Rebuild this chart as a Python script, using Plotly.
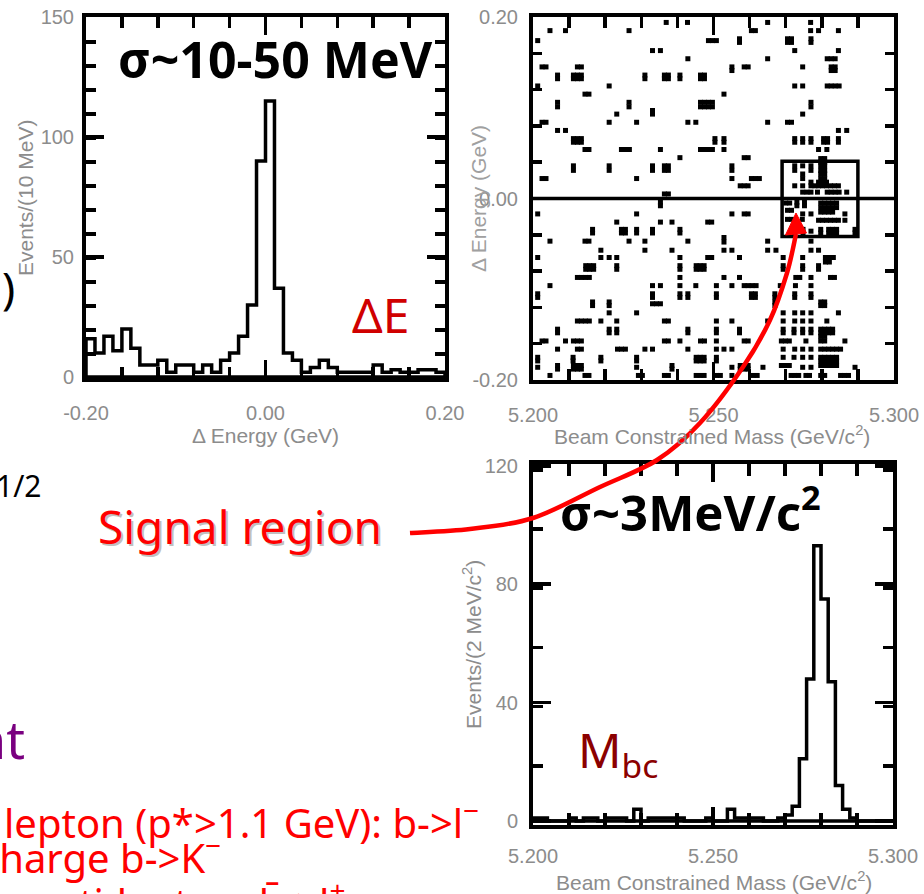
import numpy as np
import plotly.graph_objects as go

W, H = 924, 894

# ---------------- data ----------------
de_range = [-0.20, 0.20]
de_counts = [16, 10, 17, 11, 20, 12, 5, 5, 7, 2, 5, 5, 2, 5, 2, 7, 10, 17, 30, 90,
             115, 37, 10, 7, 2, 4, 7, 4, 2, 2, 2, 2, 5, 2, 3, 2, 2, 3, 3, 2]
de_ticks = [-0.20, 0.00, 0.20]
de_ticktext = ["-0.20", "0.00", "0.20"]
ev10_ticks = [0, 50, 100, 150]

mbc_range = [5.200, 5.300]
mbc_counts = [1, 1, 0, 0, 0, 1, 0, 1, 1, 0, 1, 1, 1, 0, 4, 0, 1, 1, 1, 1,
              1, 0, 0, 0, 1, 0, 0, 4, 1, 1, 1, 1, 0, 0, 1, 2, 5, 21, 48, 93,
              75, 47, 12, 4, 1, 0, 0, 0, 0, 0]
mbc_ticks = [5.200, 5.250, 5.300]
mbc_ticktext = ["5.200", "5.250", "5.300"]
ev2_ticks = [0, 40, 80, 120]

signal_box_mbc = [5.269, 5.290]
signal_box_de = [-0.042, 0.041]

# events (Mbc [GeV/c^2], dE [GeV]), by quadrant
events_upper_left = [
    (5.2369, 0.194), (5.2428, 0.194), (5.2047, 0.185), (5.2090, 0.185), (5.2266, 0.185),
    (5.2013, 0.174), (5.2486, 0.174), (5.2497, 0.174), (5.2508, 0.174),
    (5.2331, 0.163), (5.2353, 0.163), (5.2429, 0.154),
    (5.2025, 0.145), (5.2036, 0.145), (5.2123, 0.145), (5.2134, 0.145),
    (5.2068, 0.136), (5.2068, 0.132),
    (5.2112, 0.136), (5.2123, 0.136), (5.2134, 0.136), (5.2112, 0.132), (5.2123, 0.132), (5.2134, 0.132),
    (5.2310, 0.136), (5.2310, 0.132),
    (5.2364, 0.136), (5.2375, 0.136), (5.2364, 0.132), (5.2375, 0.132),
    (5.2407, 0.136), (5.2407, 0.132),
    (5.2464, 0.136), (5.2475, 0.136), (5.2464, 0.132), (5.2475, 0.132),
    (5.2013, 0.124), (5.2211, 0.124), (5.2144, 0.115), (5.2155, 0.115),
    (5.2068, 0.106), (5.2068, 0.101), (5.2266, 0.106), (5.2266, 0.101),
    (5.2464, 0.106), (5.2475, 0.106), (5.2486, 0.106), (5.2497, 0.106),
    (5.2464, 0.101), (5.2475, 0.101), (5.2486, 0.101), (5.2497, 0.101),
    (5.2232, 0.093), (5.2331, 0.097), (5.2331, 0.093),
    (5.2025, 0.084), (5.2036, 0.084), (5.2211, 0.084), (5.2287, 0.084), (5.2429, 0.084), (5.2451, 0.084),
    (5.2068, 0.075), (5.2090, 0.075),
    (5.2112, 0.066), (5.2123, 0.066), (5.2134, 0.066), (5.2112, 0.062), (5.2123, 0.062), (5.2134, 0.062),
    (5.2144, 0.054), (5.2155, 0.054), (5.2245, 0.054), (5.2256, 0.054), (5.2267, 0.054), (5.2353, 0.054),
    (5.2464, 0.054), (5.2475, 0.054), (5.2486, 0.054), (5.2497, 0.054),
    (5.2407, 0.045),
    (5.2112, 0.036), (5.2112, 0.031), (5.2211, 0.036), (5.2211, 0.031), (5.2331, 0.036), (5.2331, 0.031),
    (5.2364, 0.036), (5.2375, 0.036), (5.2364, 0.031), (5.2375, 0.031),
    (5.2025, 0.022), (5.2036, 0.022), (5.2287, 0.022), (5.2364, 0.005), (5.2375, 0.005),
]
events_upper_right = [
    (5.2650, 0.194), (5.2769, 0.194),
    (5.2605, 0.185), (5.2616, 0.185), (5.2769, 0.185), (5.2791, 0.185), (5.2846, 0.185),
    (5.2572, 0.176), (5.2572, 0.172),
    (5.2705, 0.176), (5.2716, 0.176), (5.2705, 0.172), (5.2716, 0.172),
    (5.2770, 0.176), (5.2770, 0.172), (5.2725, 0.163), (5.2846, 0.163),
    (5.2650, 0.154), (5.2815, 0.154), (5.2826, 0.154), (5.2837, 0.154),
    (5.2551, 0.145), (5.2551, 0.141), (5.2585, 0.145), (5.2596, 0.145), (5.2747, 0.145),
    (5.2826, 0.145), (5.2837, 0.145), (5.2826, 0.141), (5.2837, 0.141),
    (5.2725, 0.124), (5.2747, 0.124), (5.2815, 0.124), (5.2826, 0.124), (5.2837, 0.124), (5.2848, 0.124),
    (5.2529, 0.115), (5.2770, 0.106), (5.2770, 0.101), (5.2747, 0.093),
    (5.2650, 0.084), (5.2705, 0.084), (5.2716, 0.084), (5.2846, 0.075), (5.2869, 0.075),
    (5.2504, 0.066), (5.2504, 0.062), (5.2529, 0.066), (5.2529, 0.062),
    (5.2725, 0.066), (5.2725, 0.062), (5.2747, 0.066), (5.2747, 0.062), (5.2770, 0.066), (5.2770, 0.062),
    (5.2805, 0.066), (5.2816, 0.066), (5.2805, 0.062), (5.2816, 0.062), (5.2846, 0.066), (5.2846, 0.062),
    (5.2529, 0.054), (5.2791, 0.054), (5.2814, 0.054), (5.2585, 0.045), (5.2596, 0.045),
    (5.2797, 0.044), (5.2808, 0.044), (5.2797, 0.040), (5.2808, 0.040), (5.2797, 0.036), (5.2808, 0.036),
    (5.2797, 0.031), (5.2808, 0.031), (5.2797, 0.027), (5.2808, 0.027), (5.2797, 0.022), (5.2808, 0.022),
    (5.2551, 0.036), (5.2551, 0.031), (5.2725, 0.036), (5.2725, 0.031), (5.2747, 0.036),
    (5.2770, 0.036), (5.2770, 0.031), (5.2747, 0.027), (5.2747, 0.022), (5.2551, 0.022),
    (5.2605, 0.022), (5.2616, 0.022), (5.2627, 0.022),
    (5.2574, 0.014), (5.2585, 0.014), (5.2596, 0.014), (5.2725, 0.014), (5.2747, 0.014),
    (5.2770, 0.018), (5.2770, 0.014), (5.2781, 0.014),
    (5.2791, 0.018), (5.2802, 0.018), (5.2813, 0.018), (5.2791, 0.014), (5.2802, 0.014), (5.2813, 0.014),
    (5.2824, 0.014), (5.2835, 0.014), (5.2846, 0.014),
    (5.2747, 0.007), (5.2759, 0.007), (5.2770, 0.007), (5.2788, 0.007),
    (5.2815, 0.007), (5.2826, 0.007), (5.2837, 0.007), (5.2848, 0.007), (5.2869, 0.007),
]
events_lower_left = [
    (5.2353, -0.004), (5.2353, -0.008), (5.2013, -0.017), (5.2287, -0.017),
    (5.2232, -0.026), (5.2353, -0.026), (5.2385, -0.026), (5.2484, -0.026), (5.2495, -0.026),
    (5.2165, -0.034), (5.2165, -0.038),
    (5.2245, -0.034), (5.2256, -0.034), (5.2245, -0.038), (5.2256, -0.038),
    (5.2287, -0.034), (5.2287, -0.038), (5.2331, -0.034), (5.2331, -0.038), (5.2407, -0.034), (5.2407, -0.038),
    (5.2047, -0.047), (5.2144, -0.047), (5.2155, -0.047), (5.2266, -0.047), (5.2310, -0.047), (5.2429, -0.047),
    (5.2188, -0.057), (5.2310, -0.057), (5.2385, -0.057),
    (5.2013, -0.065), (5.2188, -0.065), (5.2211, -0.065), (5.2232, -0.065), (5.2407, -0.065),
    (5.2484, -0.065), (5.2495, -0.065),
    (5.2146, -0.074), (5.2157, -0.074), (5.2168, -0.074), (5.2146, -0.078), (5.2157, -0.078), (5.2168, -0.078),
    (5.2232, -0.074), (5.2232, -0.078), (5.2407, -0.074), (5.2407, -0.078),
    (5.2452, -0.074), (5.2463, -0.074), (5.2474, -0.074), (5.2452, -0.078), (5.2463, -0.078), (5.2474, -0.078),
    (5.2123, -0.087), (5.2134, -0.087), (5.2145, -0.087), (5.2156, -0.087), (5.2407, -0.087),
    (5.2047, -0.096), (5.2331, -0.096), (5.2353, -0.096), (5.2407, -0.096), (5.2451, -0.096),
    (5.2013, -0.105), (5.2013, -0.109),
    (5.2331, -0.105), (5.2331, -0.109), (5.2331, -0.116), (5.2342, -0.116), (5.2353, -0.116),
    (5.2407, -0.105), (5.2407, -0.109), (5.2429, -0.105), (5.2429, -0.109),
    (5.2165, -0.114), (5.2165, -0.118), (5.2211, -0.114), (5.2211, -0.118),
    (5.2211, -0.126), (5.2287, -0.126),
    (5.2123, -0.135), (5.2134, -0.135), (5.2145, -0.135), (5.2156, -0.135), (5.2188, -0.135),
    (5.2232, -0.135), (5.2364, -0.135), (5.2375, -0.135),
    (5.2068, -0.144), (5.2068, -0.148), (5.2211, -0.144), (5.2211, -0.148),
    (5.2232, -0.144), (5.2232, -0.148), (5.2429, -0.144), (5.2429, -0.148),
    (5.2025, -0.157), (5.2036, -0.157), (5.2090, -0.157), (5.2112, -0.157), (5.2123, -0.157),
    (5.2134, -0.157), (5.2364, -0.157), (5.2375, -0.157), (5.2407, -0.157), (5.2464, -0.157), (5.2475, -0.157),
    (5.2068, -0.166), (5.2123, -0.166), (5.2134, -0.166), (5.2234, -0.166), (5.2245, -0.166),
    (5.2256, -0.166), (5.2310, -0.166), (5.2331, -0.166), (5.2429, -0.166),
    (5.2013, -0.175), (5.2013, -0.179), (5.2111, -0.175), (5.2111, -0.179),
    (5.2188, -0.175), (5.2188, -0.179), (5.2287, -0.175), (5.2287, -0.179),
    (5.2452, -0.175), (5.2463, -0.175), (5.2474, -0.175), (5.2452, -0.179), (5.2463, -0.179), (5.2474, -0.179),
    (5.2013, -0.186), (5.2068, -0.184), (5.2068, -0.188),
    (5.2112, -0.184), (5.2123, -0.184), (5.2134, -0.184), (5.2112, -0.188), (5.2123, -0.188), (5.2134, -0.188),
    (5.2287, -0.186), (5.2385, -0.184), (5.2385, -0.188),
    (5.2047, -0.195), (5.2144, -0.195), (5.2155, -0.195), (5.2292, -0.195), (5.2303, -0.195),
    (5.2364, -0.195), (5.2375, -0.195), (5.2452, -0.195), (5.2463, -0.195), (5.2474, -0.195),
]
events_lower_right = [
    (5.2700, -0.005), (5.2711, -0.005),
    (5.2731, -0.004), (5.2731, -0.008), (5.2752, -0.004), (5.2752, -0.008),
    (5.2705, -0.013), (5.2716, -0.013), (5.2747, -0.017), (5.2770, -0.017),
    (5.2797, -0.005), (5.2808, -0.005), (5.2819, -0.005), (5.2830, -0.005), (5.2841, -0.005),
    (5.2797, -0.010), (5.2808, -0.010), (5.2819, -0.010), (5.2830, -0.010), (5.2841, -0.010),
    (5.2797, -0.015), (5.2808, -0.015), (5.2819, -0.015), (5.2830, -0.015),
    (5.2864, -0.017), (5.2705, -0.023), (5.2716, -0.023), (5.2746, -0.023),
    (5.2791, -0.024), (5.2802, -0.024), (5.2813, -0.024), (5.2824, -0.024), (5.2835, -0.024),
    (5.2846, -0.024), (5.2864, -0.024),
    (5.2725, -0.034), (5.2725, -0.038), (5.2748, -0.034), (5.2748, -0.038), (5.2770, -0.036),
    (5.2797, -0.034), (5.2797, -0.038),
    (5.2819, -0.034), (5.2830, -0.034), (5.2841, -0.034), (5.2819, -0.038), (5.2830, -0.038), (5.2841, -0.038),
    (5.2892, -0.034), (5.2892, -0.038),
    (5.2551, -0.017), (5.2585, -0.017), (5.2596, -0.017),
    (5.2529, -0.043), (5.2529, -0.048), (5.2650, -0.047), (5.2770, -0.047),
    (5.2529, -0.057), (5.2551, -0.057), (5.2650, -0.057), (5.2673, -0.057), (5.2770, -0.057), (5.2791, -0.057),
    (5.2572, -0.065), (5.2693, -0.065), (5.2747, -0.065), (5.2810, -0.065), (5.2821, -0.065),
    (5.2832, -0.065), (5.2810, -0.070), (5.2821, -0.070),
    (5.2693, -0.074), (5.2693, -0.078), (5.2747, -0.074), (5.2747, -0.078), (5.2791, -0.074), (5.2791, -0.078),
    (5.2529, -0.087), (5.2572, -0.087), (5.2728, -0.087), (5.2739, -0.087), (5.2770, -0.087),
    (5.2824, -0.087), (5.2835, -0.087),
    (5.2508, -0.096), (5.2551, -0.096), (5.2585, -0.096), (5.2596, -0.096), (5.2607, -0.096),
    (5.2618, -0.096), (5.2685, -0.096), (5.2727, -0.096), (5.2770, -0.096),
    (5.2508, -0.105), (5.2508, -0.109),
    (5.2605, -0.105), (5.2616, -0.105), (5.2605, -0.109), (5.2616, -0.109),
    (5.2670, -0.105), (5.2670, -0.109), (5.2670, -0.114), (5.2670, -0.118),
    (5.2725, -0.105), (5.2725, -0.109), (5.2770, -0.105), (5.2770, -0.109),
    (5.2797, -0.114), (5.2808, -0.114), (5.2797, -0.118), (5.2808, -0.118),
    (5.2693, -0.126), (5.2725, -0.126), (5.2747, -0.126), (5.2770, -0.126), (5.2846, -0.126),
    (5.2508, -0.135), (5.2551, -0.135), (5.2650, -0.135), (5.2693, -0.135), (5.2725, -0.135),
    (5.2747, -0.135), (5.2770, -0.135), (5.2814, -0.135),
    (5.2508, -0.144), (5.2508, -0.148), (5.2572, -0.144), (5.2572, -0.148), (5.2693, -0.144), (5.2693, -0.148),
    (5.2723, -0.144), (5.2723, -0.148), (5.2747, -0.144), (5.2747, -0.148), (5.2770, -0.144), (5.2770, -0.148),
    (5.2797, -0.144), (5.2808, -0.144), (5.2819, -0.144), (5.2830, -0.144),
    (5.2797, -0.148), (5.2808, -0.148), (5.2819, -0.148), (5.2830, -0.148), (5.2797, -0.152), (5.2808, -0.152),
    (5.2508, -0.157), (5.2585, -0.157), (5.2596, -0.157), (5.2688, -0.157), (5.2699, -0.157),
    (5.2710, -0.157), (5.2756, -0.157), (5.2797, -0.157), (5.2808, -0.157), (5.2864, -0.157),
    (5.2508, -0.166), (5.2529, -0.166), (5.2551, -0.166), (5.2693, -0.166), (5.2725, -0.166),
    (5.2747, -0.166), (5.2770, -0.166),
    (5.2797, -0.166), (5.2808, -0.166), (5.2819, -0.166), (5.2830, -0.166), (5.2841, -0.166), (5.2852, -0.166),
    (5.2508, -0.175), (5.2508, -0.179), (5.2693, -0.175), (5.2723, -0.175), (5.2747, -0.175), (5.2770, -0.175),
    (5.2797, -0.175), (5.2808, -0.175), (5.2819, -0.175), (5.2830, -0.175), (5.2841, -0.175),
    (5.2797, -0.179), (5.2808, -0.179), (5.2819, -0.179), (5.2830, -0.179), (5.2841, -0.179),
    (5.2797, -0.184), (5.2808, -0.184), (5.2819, -0.184), (5.2830, -0.184), (5.2841, -0.184),
    (5.2551, -0.186), (5.2574, -0.184), (5.2585, -0.184), (5.2596, -0.184),
    (5.2574, -0.188), (5.2585, -0.188), (5.2596, -0.188),
    (5.2637, -0.186), (5.2688, -0.184), (5.2699, -0.184), (5.2710, -0.184),
    (5.2747, -0.186), (5.2770, -0.186), (5.2892, -0.186),
    (5.2508, -0.195), (5.2519, -0.195), (5.2551, -0.195), (5.2610, -0.195), (5.2621, -0.195),
    (5.2715, -0.195), (5.2725, -0.195), (5.2736, -0.195), (5.2756, -0.195), (5.2766, -0.195),
    (5.2797, -0.195), (5.2808, -0.195), (5.2852, -0.195), (5.2863, -0.195), (5.2874, -0.195),
]

# ---------------- helpers ----------------
def px(x):
    return x / W

def py(y):
    return 1 - y / H

def dom_x(a, b):
    return [a / W, b / W]

def dom_y(top, bottom):
    return [1 - bottom / H, 1 - top / H]

def step_outline(edges, counts):
    xs = [edges[0]] + list(edges) + [edges[-1]]
    ys = [0] + list(counts) + [counts[-1], 0]
    return xs, ys

TICKFONT = dict(family="Liberation Sans", size=20, color="#8c8c8c")


def axis(domain, rng, anchor, tickvals, ticktext, ticklen, mdtick, mlen, standoff):
    return dict(
        domain=domain, range=rng, anchor=anchor, showgrid=False, zeroline=False,
        automargin=False,
        showline=True, linewidth=4, linecolor="black", mirror="ticks",
        ticks="inside", ticklen=ticklen, tickwidth=3.5, tickcolor="black",
        tickmode="array", tickvals=tickvals, ticktext=ticktext, tickfont=TICKFONT,
        ticklabelstandoff=standoff,
        minor=dict(ticks="inside", ticklen=mlen, tickwidth=3.5, tickcolor="black",
                   dtick=mdtick, tick0=rng[0], showgrid=False),
    )


fig = go.Figure()

# ---- Delta E histogram ----
de_edges = np.linspace(de_range[0], de_range[1], len(de_counts) + 1)
xs, ys = step_outline(de_edges, de_counts)
fig.add_trace(go.Scatter(x=xs, y=ys, mode="lines", line=dict(color="black", width=3.5, shape="hv"),
                         xaxis="x", yaxis="y", hoverinfo="skip", showlegend=False))
fig.add_trace(go.Scatter(x=[de_edges[0], de_edges[-1]], y=[0, 0], mode="lines",
                         line=dict(color="black", width=3.5), xaxis="x", yaxis="y", showlegend=False))

# ---- scatter ----
events = events_upper_left + events_upper_right + events_lower_left + events_lower_right
ev_mbc = [e[0] for e in events]
ev_de = [e[1] for e in events]
fig.add_trace(go.Scatter(x=ev_mbc, y=ev_de, mode="markers",
                         marker=dict(symbol="square", size=5, color="black", line=dict(width=0)),
                         xaxis="x2", yaxis="y2", showlegend=False))

# ---- Mbc histogram ----
mbc_edges = np.linspace(mbc_range[0], mbc_range[1], len(mbc_counts) + 1)
xs, ys = step_outline(mbc_edges, mbc_counts)
fig.add_trace(go.Scatter(x=xs, y=ys, mode="lines", line=dict(color="black", width=3.5, shape="hv"),
                         xaxis="x3", yaxis="y3", showlegend=False))
fig.add_trace(go.Scatter(x=[mbc_edges[0], mbc_edges[-1]], y=[0, 0], mode="lines",
                         line=dict(color="black", width=3.5), xaxis="x3", yaxis="y3", showlegend=False))

fig.update_layout(
    template="none",
    width=W, height=H, margin=dict(l=0, r=0, t=0, b=0, pad=0, autoexpand=False),
    paper_bgcolor="white", plot_bgcolor="white", showlegend=False,
    xaxis=axis(dom_x(86, 445), de_range, "y", de_ticks, de_ticktext, 18, 0.04, 11, 14),
    yaxis=axis(dom_y(17, 378), [-0.4, 150], "x", ev10_ticks, [str(v) for v in ev10_ticks], 18, 10, 10, 4),
    xaxis2=axis(dom_x(533, 894), mbc_range, "y2", mbc_ticks, mbc_ticktext, 18, 0.01, 11, 14),
    yaxis2=axis(dom_y(17, 380), [-0.2, 0.2], "x2", de_ticks, de_ticktext, 10, 0.04, 9, 7),
    xaxis3=axis(dom_x(533, 893), mbc_range, "y3", mbc_ticks, mbc_ticktext, 18, 0.01, 12, 10),
    yaxis3=axis(dom_y(464, 825), [-1.35, 120.6], "x3", ev2_ticks, [str(v) for v in ev2_ticks], 18, 20, 10, 7),
)

shapes = []
# zero line and signal box in the scatter plot
shapes.append(dict(type="line", xref="x2 domain", yref="y2", x0=0, x1=1, y0=0, y1=0,
                   line=dict(color="black", width=3.5), layer="above"))
shapes.append(dict(type="rect", xref="x2", yref="y2",
                   x0=signal_box_mbc[0], x1=signal_box_mbc[1], y0=signal_box_de[0], y1=signal_box_de[1],
                   line=dict(color="black", width=3.5), layer="above"))

# red curved arrow (pixel positions on the page)
arrow_pts = [(410, 533), (470, 529), (533, 518), (600, 487), (657, 460), (700, 423),
             (743, 367), (770, 320), (787, 273), (796, 234)]
path = f"M {px(arrow_pts[0][0]):.5f},{py(arrow_pts[0][1]):.5f}"
for i in range(len(arrow_pts) - 1):
    p0 = arrow_pts[i - 1] if i > 0 else arrow_pts[i]
    p1 = arrow_pts[i]
    p2 = arrow_pts[i + 1]
    p3 = arrow_pts[i + 2] if i + 2 < len(arrow_pts) else arrow_pts[i + 1]
    c1 = (p1[0] + (p2[0] - p0[0]) / 6, p1[1] + (p2[1] - p0[1]) / 6)
    c2 = (p2[0] - (p3[0] - p1[0]) / 6, p2[1] - (p3[1] - p1[1]) / 6)
    path += (f" C {px(c1[0]):.5f},{py(c1[1]):.5f} {px(c2[0]):.5f},{py(c2[1]):.5f}"
             f" {px(p2[0]):.5f},{py(p2[1]):.5f}")
shapes.append(dict(type="path", xref="paper", yref="paper", path=path,
                   line=dict(color="#ff0000", width=4.5), layer="above"))
head = [(796, 213), (785.5, 235), (806.5, 233)]
hpath = "M " + " L ".join(f"{px(a):.5f},{py(b):.5f}" for a, b in head) + " Z"
shapes.append(dict(type="path", xref="paper", yref="paper", path=hpath,
                   fillcolor="#ff0000", line=dict(color="#ff0000", width=1), layer="above"))
fig.update_layout(shapes=shapes)

SLIDE = "Noto Sans"
ann = []

def text(t, x, y, size, color, xanchor="center", yanchor="middle", family=SLIDE, angle=0):
    ann.append(dict(text=t, x=px(x), y=py(y), xref="paper", yref="paper", showarrow=False,
                    xanchor=xanchor, yanchor=yanchor, textangle=angle,
                    font=dict(family=family, size=size, color=color)))

# axis titles
text("Events/(10 MeV)", 25, 198, 21, "#8c8c8c", family="Liberation Sans", angle=-90)
text("Δ Energy (GeV)", 265, 435, 21, "#8c8c8c", family="Liberation Sans")
text("Δ Energy (GeV)", 478, 198, 21, "#a0a0a0", family="Liberation Sans", angle=-90)
text("Beam Constrained Mass (GeV/c<sup>2</sup>)", 712, 435, 21, "#8c8c8c", family="Liberation Sans")
text("Events/(2 MeV/c<sup>2</sup>)", 472, 645, 21, "#8c8c8c", family="Liberation Sans", angle=-90)
text("Beam Constrained Mass (GeV/c<sup>2</sup>)", 714, 881, 21, "#8c8c8c", family="Liberation Sans")

# panel labels
text("<b>σ~10-50 MeV</b>", 275, 59, 50, "black")
text("ΔE", 380, 314, 48, "#d00000")
text("<b>σ~3MeV/c<sup>2</sup></b>", 690, 509, 49, "black")
text("M<sub>bc</sub>", 576, 752, 48, "#8b0000", xanchor="left")

# slide text
text("Signal region", 242, 528, 46, "#c0c0c0")
text("Signal region", 240, 526, 46, "#ff0000")
text(")", 17, 287, 44, "black", xanchor="right")
text("1/2", 43, 485, 30, "black", xanchor="right")
text("nt", 27, 738, 52, "#7a0080", xanchor="right")
text("lepton (p*>1.1 GeV): b->l<sup>−</sup>", 2, 820, 40, "#ff0000", xanchor="left")
text("charge b->K<sup>−</sup>", -22, 855, 40, "#ff0000", xanchor="left")
text("anti-lepton: b̄->l<sup>+</sup>", 30, 900, 40, "#ff0000", xanchor="left")

fig.update_layout(annotations=ann)
fig.write_html(
    "out.html",
    config={"displayModeBar": False, "staticPlot": True},
    post_script="document.body.style.margin='0px'; document.body.style.overflow='hidden';",
)
